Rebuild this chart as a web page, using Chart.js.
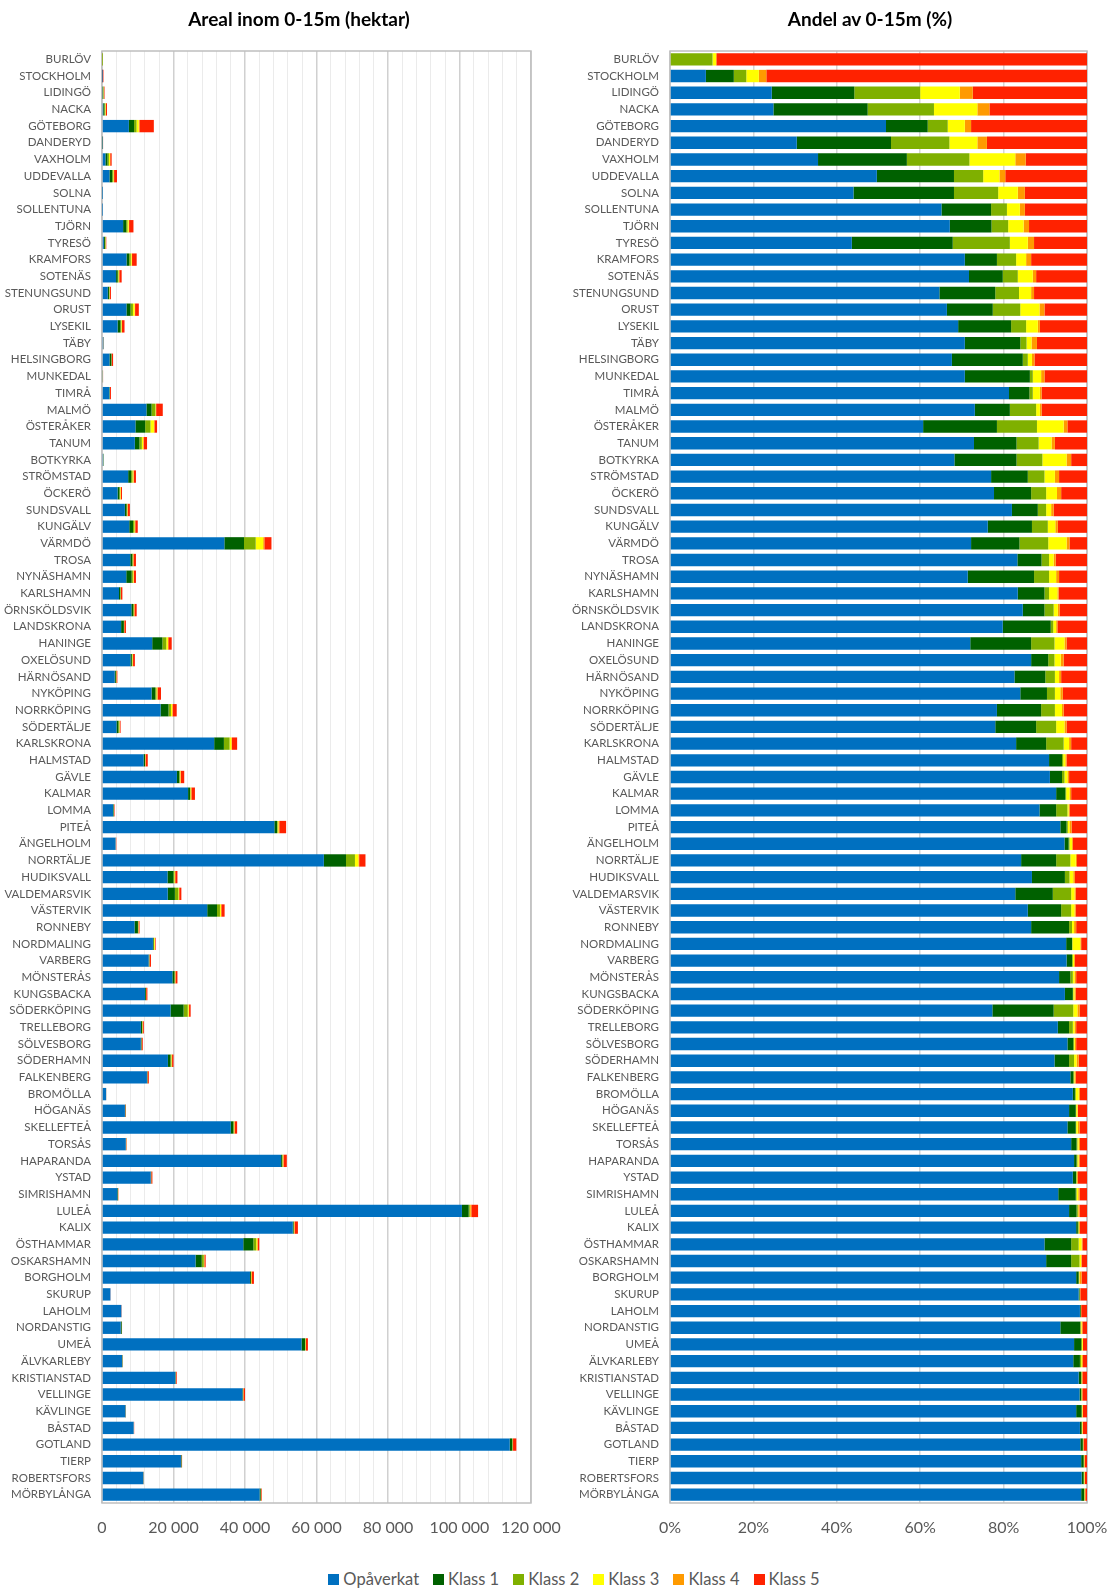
<!DOCTYPE html>
<html>
<head>
<meta charset="utf-8">
<script src="https://cdn.jsdelivr.net/npm/chart.js@4.4.1/dist/chart.umd.min.js"></script>
<style>
  html, body { margin: 0; padding: 0; background: #ffffff; }
  #wrap { position: relative; width: 1114px; height: 1590px; overflow: hidden; background: #fff; }
  #cLeft { position: absolute; left: 0; top: 0; }
  #cRight { position: absolute; left: 560px; top: 0; }
  .title { position: absolute; top: 7px; width: 400px; margin-left: -200px; text-align: center;
           font-family: Lato, "Open Sans", sans-serif; font-weight: bold; font-size: 19px; color: #000; line-height: 24px; }
  #legend { position: absolute; left: 0; width: 1148px; top: 1569px; display: flex; justify-content: center;
            gap: 14px; font-family: Lato, "Open Sans", sans-serif; font-size: 16.5px; color: #595959; }
  #legend .item { display: flex; align-items: center; white-space: nowrap; }
  #legend .box { width: 11px; height: 11px; margin-right: 4px; display: inline-block; }
</style>
</head>
<body>
<div id="wrap">
  <canvas id="cLeft" width="561" height="1545"></canvas>
  <canvas id="cRight" width="554" height="1545"></canvas>
  <div class="title" style="left:299px">Areal inom 0-15m (hektar)</div>
  <div class="title" style="left:870px">Andel av 0-15m (%)</div>
  <div id="legend"></div>
</div>
<script>
const categories = ["BURLÖV","STOCKHOLM","LIDINGÖ","NACKA","GÖTEBORG","DANDERYD","VAXHOLM","UDDEVALLA","SOLNA","SOLLENTUNA",
  "TJÖRN","TYRESÖ","KRAMFORS","SOTENÄS","STENUNGSUND","ORUST","LYSEKIL","TÄBY","HELSINGBORG","MUNKEDAL",
  "TIMRÅ","MALMÖ","ÖSTERÅKER","TANUM","BOTKYRKA","STRÖMSTAD","ÖCKERÖ","SUNDSVALL","KUNGÄLV","VÄRMDÖ",
  "TROSA","NYNÄSHAMN","KARLSHAMN","ÖRNSKÖLDSVIK","LANDSKRONA","HANINGE","OXELÖSUND","HÄRNÖSAND","NYKÖPING","NORRKÖPING",
  "SÖDERTÄLJE","KARLSKRONA","HALMSTAD","GÄVLE","KALMAR","LOMMA","PITEÅ","ÄNGELHOLM","NORRTÄLJE","HUDIKSVALL",
  "VALDEMARSVIK","VÄSTERVIK","RONNEBY","NORDMALING","VARBERG","MÖNSTERÅS","KUNGSBACKA","SÖDERKÖPING","TRELLEBORG","SÖLVESBORG",
  "SÖDERHAMN","FALKENBERG","BROMÖLLA","HÖGANÄS","SKELLEFTEÅ","TORSÅS","HAPARANDA","YSTAD","SIMRISHAMN","LULEÅ",
  "KALIX","ÖSTHAMMAR","OSKARSHAMN","BORGHOLM","SKURUP","LAHOLM","NORDANSTIG","UMEÅ","ÄLVKARLEBY","KRISTIANSTAD",
  "VELLINGE","KÄVLINGE","BÅSTAD","GOTLAND","TIERP","ROBERTSFORS","MÖRBYLÅNGA"];

// Total area within 0-15 m (hectares)
const totalHa = [40,400,700,1400,14500,300,2700,4200,80,60,
  8800,1200,9700,5500,2500,10300,6300,500,3100,300,
  2500,17000,15400,12600,500,9500,5600,7800,10000,47400,
  9500,9500,5700,9700,6700,19500,9200,4300,16500,20900,
  5200,37800,12800,23000,26000,3500,51500,4000,73700,21100,
  22200,34300,10500,15000,13700,21100,12700,24800,11700,11400,
  20000,13100,1200,6700,37800,6900,51700,14100,4600,105200,
  54800,44000,29000,42500,2400,5500,5600,57600,5800,20900,
  40000,6700,9000,115900,22400,11700,44700];

// Share of total (%) per class
const pctOpaverkat = [0,8.6,24.4,24.8,51.8,30.4,35.5,49.6,44.0,65.1,
  67.1,43.6,70.7,71.7,64.6,66.4,69.1,70.7,67.6,70.7,
  81.3,73.1,60.7,72.9,68.2,77.0,77.7,82.0,76.2,72.2,
  83.3,71.4,83.4,84.6,79.8,72.0,86.6,82.6,84.0,78.4,
  78.0,83.0,90.9,91.1,92.6,88.6,93.6,94.6,84.2,86.8,
  82.8,85.8,86.6,95.0,95.1,93.3,94.7,77.3,93.0,95.3,
  92.2,96.0,96.6,95.7,95.3,96.2,96.9,96.6,93.1,95.7,
  97.4,89.8,90.2,97.4,98.0,98.3,93.6,96.9,96.7,98.0,
  98.2,97.4,98.3,98.4,98.6,98.7,98.6];
const pctKlass1 = [0,6.7,19.8,22.6,10.0,22.6,21.3,18.5,24.1,11.9,
  10.0,24.2,7.7,8.1,13.4,11.0,12.7,13.3,17.0,15.6,
  4.9,8.4,17.7,10.2,14.9,8.8,8.9,6.2,10.6,11.6,
  5.8,15.9,6.4,5.2,11.5,14.6,4.1,7.4,6.4,10.6,
  9.8,7.2,3.1,2.9,2.2,4.0,1.5,1.0,8.4,7.9,
  9.0,8.0,9.1,1.4,1.3,2.7,1.9,14.7,2.7,1.4,
  3.5,0.7,0.5,1.6,2.0,1.3,0.6,0.8,4.2,1.8,
  0.4,6.4,6.0,0.6,0.2,0.2,4.8,1.7,1.6,0.6,
  0.4,1.3,0.4,0.6,0.6,0.5,0.7];
const pctKlass2 = [10.2,3.0,15.8,15.9,4.8,14.0,15.0,7.0,10.6,3.8,
  4.0,13.7,4.6,3.6,5.7,6.6,3.6,1.5,1.2,0.7,
  0.8,6.3,9.6,5.3,6.2,4.0,3.6,2.0,3.8,6.9,
  1.8,3.6,1.1,2.2,0.6,5.6,1.5,2.3,1.9,3.3,
  4.8,4.2,0.3,0.6,0.2,2.7,0.3,0.2,3.4,1.1,
  4.4,2.4,0.7,0.1,0.2,0.6,0.1,4.7,0.9,0.2,
  1.2,0.2,0.2,0.1,0.1,0.2,0.2,0.1,0.2,0.3,
  0.2,1.8,2.0,0.1,0.1,0.0,0.1,0.2,0.3,0.1,
  0.1,0.1,0.1,0.1,0.1,0.1,0.1];
const pctKlass3 = [0.9,3.0,9.5,10.4,4.1,6.7,11.0,3.9,4.7,3.1,
  3.7,4.3,2.4,3.6,2.9,4.6,2.8,1.2,1.0,2.0,
  1.7,0.9,6.4,3.1,5.8,2.5,2.6,1.2,1.8,4.4,
  1.1,1.7,2.0,1.0,0.7,2.4,1.5,1.0,1.3,1.7,
  2.0,1.3,0.5,0.7,0.8,0.3,0.4,0.6,1.3,0.9,
  0.8,0.8,0.5,1.9,0.3,0.4,0.3,1.0,0.4,0.2,
  0.6,0.1,0.7,0.3,0.4,0.3,0.3,0.1,0.4,0.1,
  0.1,0.7,0.4,0.1,0.0,0.1,0.2,0.2,0.2,0.1,
  0.1,0.1,0.1,0.0,0.1,0.1,0.1];
const pctKlass4 = [0,1.8,3.1,2.9,1.5,2.3,2.5,1.4,1.7,1.2,
  1.3,1.5,1.2,0.8,0.7,1.2,0.5,1.3,0.6,0.8,
  0.4,0.4,0.9,0.8,1.1,1.0,1.0,0.6,0.6,0.7,
  0.5,0.7,0.3,0.4,0.3,0.5,0.7,0.5,0.6,0.4,
  0.5,0.5,0.3,0.4,0.4,0.2,0.5,0.2,0.3,0.4,
  0.3,0.3,0.5,0.2,0.2,0.4,0.3,0.5,0.4,0.3,
  0.5,0.3,0.3,0.1,0.4,0.3,0.2,0.2,0.3,0.3,
  0.2,0.2,0.1,0.5,0.1,0.0,0.2,0.0,0.2,0.1,
  0.1,0.1,0.1,0.1,0.0,0.1,0.1];
const pctKlass5 = [88.9,76.9,27.4,23.4,27.8,24.0,14.7,19.6,14.9,14.9,
  13.9,12.7,13.4,12.2,12.7,10.2,11.3,12.0,12.6,10.2,
  10.9,10.9,4.7,7.7,3.8,6.7,6.2,8.0,7.0,4.2,
  7.5,6.7,6.8,6.6,7.1,4.9,5.6,6.2,5.8,5.6,
  4.9,3.8,4.9,4.3,3.8,4.2,3.7,3.4,2.4,2.9,
  2.7,2.7,2.6,1.4,2.9,2.6,2.7,1.8,2.6,2.6,
  2.0,2.7,1.7,2.2,1.8,1.7,1.8,2.2,1.8,1.8,
  1.7,1.1,1.3,1.3,1.6,1.4,1.1,1.0,1.0,1.1,
  1.1,1.0,1.0,0.8,0.6,0.5,0.4];

const seriesNames = ["Opåverkat","Klass 1","Klass 2","Klass 3","Klass 4","Klass 5"];
const seriesColors = ["#0070C0","#006100","#7FB000","#FFFF00","#FF9A00","#FF2200"];
const seriesPct = [pctOpaverkat, pctKlass1, pctKlass2, pctKlass3, pctKlass4, pctKlass5];
const haTicks = [0, 20000, 40000, 60000, 80000, 100000, 120000];
const pctTicks = [0, 20, 40, 60, 80, 100];

const FONT = 'Lato, "Open Sans", sans-serif';
const GREY = '#595959';

const borderPlugin = {
  id: 'plotBorder',
  beforeDatasetsDraw(chart) {
    const a = chart.chartArea, ctx = chart.ctx;
    ctx.save();
    ctx.strokeStyle = '#bfbfbf';
    ctx.lineWidth = 1.5;
    ctx.strokeRect(a.left, a.top, a.right - a.left, a.bottom - a.top);
    ctx.restore();
  }
};

function fmtHa(v) {
  return String(v).replace(/\B(?=(\d{3})+(?!\d))/g, ' ');
}

function baseOptions(yWidth, padRight) {
  return {
    indexAxis: 'y',
    responsive: false,
    animation: false,
    devicePixelRatio: 1,
    layout: { padding: { left: 0, right: padRight, top: 51, bottom: 0 } },
    plugins: {
      legend: { display: false },
      tooltip: { enabled: false },
      title: { display: false }
    },
    scales: {
      y: {
        stacked: true,
        grid: { display: false, drawTicks: false },
        border: { display: false },
        ticks: { color: GREY, font: { family: FONT, size: 11.5 }, padding: 11, autoSkip: false },
        afterFit(scale) { scale.width = yWidth; scale.paddingTop = 0; scale.paddingBottom = 0; }
      },
      x: {
        stacked: true,
        border: { display: false },
        grid: { drawTicks: false },
        ticks: { color: GREY, font: { family: FONT, size: 16 }, padding: 15, autoSkip: false, maxRotation: 0 },
        afterFit(scale) { scale.height = 42; scale.paddingLeft = 0; scale.paddingRight = 0; }
      }
    }
  };
}

// Left chart: hectares (total x share)
const haDatasets = seriesNames.map((name, s) => ({
  label: name,
  data: totalHa.map((t, i) => t * seriesPct[s][i] / 100),
  backgroundColor: seriesColors[s],
  borderWidth: 0,
  barPercentage: 0.74,
  categoryPercentage: 1.0
}));

const leftOpts = baseOptions(102, 30);
leftOpts.scales.x.min = haTicks[0];
leftOpts.scales.x.max = haTicks[haTicks.length - 1];
leftOpts.scales.x.ticks.stepSize = 4000;
leftOpts.scales.x.ticks.maxTicksLimit = 100;
leftOpts.scales.x.ticks.callback = (v) => haTicks.includes(v) ? fmtHa(v) : '';
leftOpts.scales.x.grid.color = (ctx) => (ctx.tick && haTicks.includes(ctx.tick.value)) ? '#d0d0d0' : '#ebebeb';
leftOpts.scales.x.grid.lineWidth = (ctx) => (ctx.tick && haTicks.includes(ctx.tick.value)) ? 1.5 : 1;

new Chart(document.getElementById('cLeft'), {
  type: 'bar',
  data: { labels: categories, datasets: haDatasets },
  options: leftOpts,
  plugins: [borderPlugin]
});

// Right chart: share (%)
const pctDatasets = seriesNames.map((name, s) => ({
  label: name,
  data: seriesPct[s],
  backgroundColor: seriesColors[s],
  borderWidth: 0,
  barPercentage: 0.74,
  categoryPercentage: 1.0
}));

const rightOpts = baseOptions(110, 27);
rightOpts.scales.x.min = pctTicks[0];
rightOpts.scales.x.max = pctTicks[pctTicks.length - 1];
rightOpts.scales.x.ticks.stepSize = 20;
rightOpts.scales.x.ticks.callback = (v) => pctTicks.includes(v) ? v + '%' : '';
rightOpts.scales.x.grid.color = '#d6d6d6';
rightOpts.scales.x.grid.lineWidth = 1.5;

new Chart(document.getElementById('cRight'), {
  type: 'bar',
  data: { labels: categories, datasets: pctDatasets },
  options: rightOpts,
  plugins: [borderPlugin]
});

// Legend (shared by both charts)
const legend = document.getElementById('legend');
seriesNames.forEach((name, s) => {
  const item = document.createElement('span');
  item.className = 'item';
  const box = document.createElement('span');
  box.className = 'box';
  box.style.background = seriesColors[s];
  item.appendChild(box);
  item.appendChild(document.createTextNode(name));
  legend.appendChild(item);
});
</script>
</body>
</html>
